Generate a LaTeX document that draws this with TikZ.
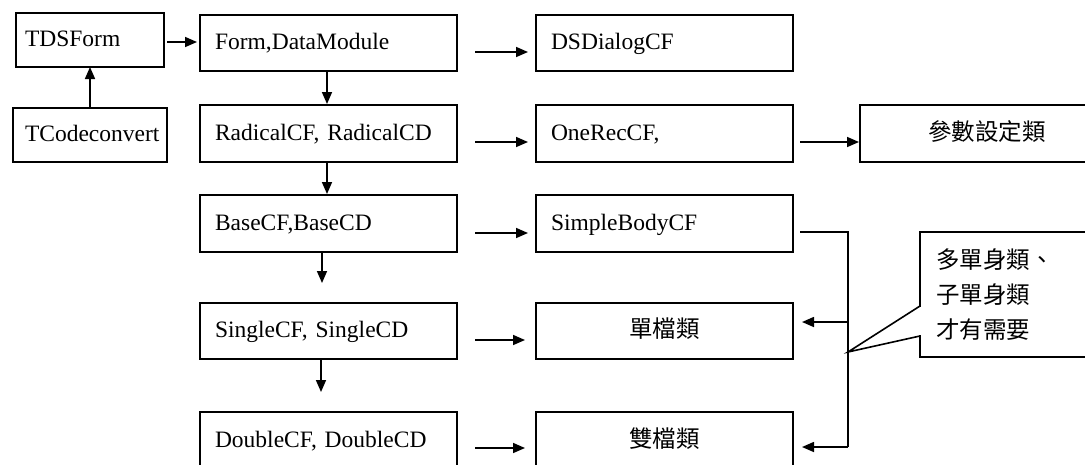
\documentclass[tikz,border=0pt]{standalone}
\usepackage{fontspec}
\setmainfont{Liberation Serif}
\newfontfamily\cjk{Noto Sans CJK TC}
\usetikzlibrary{arrows.meta,calc}
\frenchspacing
\begin{document}
\begin{tikzpicture}[x=1pt,y=-1pt,
  box/.style={draw, line width=1.7pt, anchor=north west, outer sep=0pt, inner ysep=0pt,
              text height=17pt, text depth=4pt, font=\frenchspacing\fontsize{23.5}{28}\selectfont},
  lbox/.style={box, align=left},
  cbox/.style={box, align=center, font=\cjk\fontsize{23.5}{28}\selectfont},
  arr/.style={line width=1.6pt, -{Triangle[length=12pt,width=10pt]}},
  wire/.style={line width=1.6pt}]
\useasboundingbox (0,0) rectangle (1085,464);
\fill[white] (0,0) rectangle (1085,464);
\clip (0,0) rectangle (1085,464);

% column 0
\node[lbox, text width=130pt, inner xsep=9pt, minimum height=54pt] (tds) at (16,13) {TDSForm};
\node[lbox, text width=130pt, inner xsep=12pt, minimum height=54pt] (tcode) at (13,108) {TCodeconvert};

% column 1
\node[lbox, text width=227pt, inner xsep=15pt, minimum height=56pt] (form) at (200,15) {Form,DataModule};
\node[lbox, text width=227pt, inner xsep=15pt, minimum height=57pt] (radical) at (200,105) {RadicalCF, RadicalCD};
\node[lbox, text width=227pt, inner xsep=15pt, minimum height=57pt] (base) at (200,195) {BaseCF,BaseCD};
\node[lbox, text width=227pt, inner xsep=15pt, minimum height=56pt] (single) at (200,303) {SingleCF, SingleCD};
\node[lbox, text width=227pt, inner xsep=15pt, minimum height=57pt] (double) at (200,412) {DoubleCF, DoubleCD};

% column 2
\node[lbox, text width=227pt, inner xsep=15pt, minimum height=56pt] (dsd) at (536,15) {DSDialogCF};
\node[lbox, text width=227pt, inner xsep=15pt, minimum height=57pt] (onerec) at (536,105) {OneRecCF,};
\node[lbox, text width=227pt, inner xsep=15pt, minimum height=57pt] (simple) at (536,195) {SimpleBodyCF};
\node[cbox, text width=237pt, inner xsep=10pt, minimum height=56pt] (dan) at (536,303) {單檔類};
\node[cbox, text width=237pt, inner xsep=10pt, minimum height=57pt] (shuang) at (536,412) {雙檔類};

% column 3
\node[cbox, text width=234pt, inner xsep=10pt, minimum height=57pt] (param) at (860,105) {參數設定類};

% callout
\node[draw, line width=1.7pt, anchor=north west, outer sep=0pt, minimum height=125pt,
      text width=148pt, inner xsep=16pt, inner ysep=0pt, align=left,
      font=\cjk\fontsize{23.5}{35}\selectfont] (callout) at (920,232) {多單身類、\\子單身類\\才有需要};

% vertical chain
\draw[arr] (tcode.north) -- (tds.south);
\draw[arr] ($(tds.east)+(3,2)$) -- ($(form.west)+(-3,-1)$);
\draw[arr] ($(form.south)+(-1.5,0)$) -- ($(radical.north)+(-1.5,-1)$);
\draw[arr] ($(radical.south)+(-1.5,0)$) -- ($(base.north)+(-1.5,-1)$);
\draw[arr] ($(base.south)+(-6.5,0)$) -- ($(single.north)+(-6.5,-20)$);
\draw[arr] ($(single.south)+(-7.5,0)$) -- ($(double.north)+(-7.5,-20)$);

% horizontal arrows
\draw[arr] ($(form.east)+(18,9)$) -- ($(dsd.west)+(-8,9)$);
\draw[arr] ($(radical.east)+(18,8.5)$) -- ($(onerec.west)+(-8,8.5)$);
\draw[arr] ($(base.east)+(18,9.5)$) -- ($(simple.west)+(-8,9.5)$);
\draw[arr] ($(single.east)+(18,9)$) -- ($(dan.west)+(-11,9)$);
\draw[arr] ($(double.east)+(18,7.5)$) -- ($(shuang.west)+(-11,7.5)$);
\draw[arr] ($(onerec.east)+(7,8.5)$) -- ($(param.west)+(-1,8.5)$);

% bracket
\coordinate (bt) at (848,232);
\coordinate (bm) at (848,322);
\coordinate (bb) at (848,447);
\coordinate (tip) at (848,352);
\draw[wire] ($(simple.east |- bt)+(7,0)$) -- (bt) -- (bb);
\draw[arr] (bm) -- ($(dan.east |- bm)+(9,0)$);
\draw[arr] (bb) -- ($(shuang.east |- bb)+(9,0)$);

% callout pointer
\coordinate (n1) at ($(callout.north west)+(0,74)$);
\coordinate (n2) at ($(callout.north west)+(0,104)$);
\fill[white] ($(n1)+(-2,1)$) rectangle ($(n2)+(2,-1)$);
\draw[wire, line join=miter] (n1) -- (tip) -- (n2);
\end{tikzpicture}
\end{document}
